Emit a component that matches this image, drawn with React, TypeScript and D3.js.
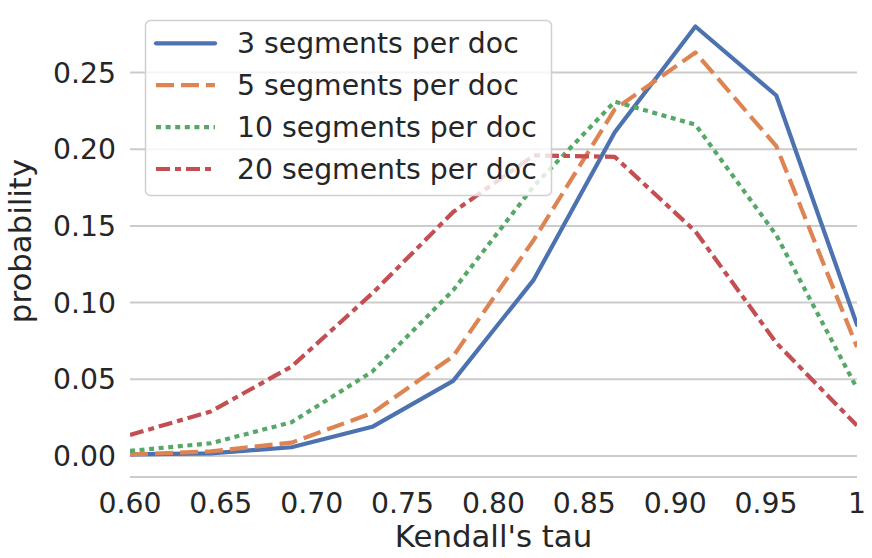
import { useEffect, useRef } from 'react';
import * as d3 from 'd3';

// Kendall's tau bin positions
const taus = [0.6, 0.6444, 0.6889, 0.7333, 0.7778, 0.8222, 0.8667, 0.9111, 0.9556, 1.0];

const seg3 = [0.001, 0.0017, 0.0057, 0.019, 0.049, 0.115, 0.211, 0.28, 0.235, 0.0855];
const seg5 = [0.001, 0.003, 0.0087, 0.028, 0.065, 0.141, 0.226, 0.263, 0.202, 0.071];
const seg10 = [0.0033, 0.0083, 0.022, 0.055, 0.108, 0.176, 0.231, 0.216, 0.144, 0.044];
const seg20 = [0.0137, 0.029, 0.0583, 0.106, 0.159, 0.196, 0.195, 0.1464, 0.0737, 0.0198];

const seriesNames = ['3 segments per doc', '5 segments per doc', '10 segments per doc', '20 segments per doc'];

const xTicks = [0.6, 0.65, 0.7, 0.75, 0.8, 0.85, 0.9, 0.95, 1.0];
const xTickLabels = ['0.60', '0.65', '0.70', '0.75', '0.80', '0.85', '0.90', '0.95', '1'];
const yTicks = [0, 0.05, 0.1, 0.15, 0.2, 0.25];
const yTickLabels = ['0.00', '0.05', '0.10', '0.15', '0.20', '0.25'];

const W = 872;
const H = 558;

export default function App() {
  const svgRef = useRef<SVGSVGElement>(null);

  useEffect(() => {
    document.body.style.margin = '0';
    if (!svgRef.current) return;
    const svg = d3.select(svgRef.current);
    svg.selectAll('*').remove();

    const left = 130;
    const right = 857;
    const top = 5;
    const bottom = 477;
    const font = 'DejaVu Sans, sans-serif';
    const ink = '#262626';
    const grid = '#cccccc';
    const tickSize = 28.3;
    const labelSize = 30.8;

    const x = d3.scaleLinear().domain([0.6, 1.0]).range([left, right]);
    const y = d3.scaleLinear().domain([-0.0137, 0.294]).range([bottom, top]);

    const styles = [
      { color: '#4C72B0', dash: null as string | null, cap: 'round' },
      { color: '#DD8452', dash: '18,7', cap: 'butt' },
      { color: '#55A868', dash: '5,4.6', cap: 'butt' },
      { color: '#C44E52', dash: '14,5,6,5', cap: 'butt' },
    ];
    const series = [seg3, seg5, seg10, seg20];

    svg.append('defs').append('clipPath').attr('id', 'plot-clip')
      .append('rect')
      .attr('x', left).attr('y', 0)
      .attr('width', right - left).attr('height', bottom);

    // Grid
    svg.append('g').selectAll('line')
      .data(yTicks)
      .enter()
      .append('line')
      .attr('x1', left).attr('x2', right)
      .attr('y1', d => y(d)).attr('y2', d => y(d))
      .attr('stroke', grid).attr('stroke-width', 2);

    // bottom spine
    svg.append('line')
      .attr('x1', left).attr('x2', right)
      .attr('y1', bottom).attr('y2', bottom)
      .attr('stroke', grid).attr('stroke-width', 2);

    // Tick labels
    svg.append('g').selectAll('text')
      .data(yTicks)
      .enter()
      .append('text')
      .attr('x', 116)
      .attr('y', d => y(d))
      .attr('dy', '0.36em')
      .attr('text-anchor', 'end')
      .attr('font-family', font).attr('font-size', tickSize).attr('fill', ink)
      .text((d, i) => yTickLabels[i]);

    svg.append('g').selectAll('text')
      .data(xTicks)
      .enter()
      .append('text')
      .attr('x', d => x(d))
      .attr('y', 513)
      .attr('text-anchor', 'middle')
      .attr('font-family', font).attr('font-size', tickSize).attr('fill', ink)
      .text((d, i) => xTickLabels[i]);

    // Axis labels
    svg.append('text')
      .attr('x', (left + right) / 2)
      .attr('y', 547)
      .attr('text-anchor', 'middle')
      .attr('font-family', font).attr('font-size', labelSize).attr('fill', ink)
      .text("Kendall's tau");

    svg.append('text')
      .attr('transform', `translate(31, ${(top + bottom) / 2}) rotate(-90)`)
      .attr('text-anchor', 'middle')
      .attr('font-family', font).attr('font-size', labelSize).attr('fill', ink)
      .text('probability');

    // Lines
    const line = d3.line<number>()
      .x((d, i) => x(taus[i]))
      .y(d => y(d));

    const lines = svg.append('g').attr('clip-path', 'url(#plot-clip)');
    series.forEach((s, i) => {
      const p = lines.append('path')
        .attr('d', line(s) || '')
        .attr('fill', 'none')
        .attr('stroke', styles[i].color)
        .attr('stroke-width', 4.2)
        .attr('stroke-linejoin', 'round')
        .attr('stroke-linecap', styles[i].cap);
      if (styles[i].dash) p.attr('stroke-dasharray', styles[i].dash);
    });

    // Legend
    const lg = svg.append('g');
    lg.append('rect')
      .attr('x', 145.5).attr('y', 20.5)
      .attr('width', 406).attr('height', 175)
      .attr('rx', 5)
      .attr('fill', 'white').attr('fill-opacity', 0.8)
      .attr('stroke', '#d0d0d0').attr('stroke-width', 1.5);

    seriesNames.forEach((name, i) => {
      const cy = 43.3 + i * 41.9;
      const h = lg.append('line')
        .attr('x1', 156).attr('x2', 215)
        .attr('y1', cy).attr('y2', cy)
        .attr('stroke', styles[i].color)
        .attr('stroke-width', 4.2)
        .attr('stroke-linecap', styles[i].cap);
      if (styles[i].dash) h.attr('stroke-dasharray', styles[i].dash);
      lg.append('text')
        .attr('x', 237)
        .attr('y', cy)
        .attr('dy', '0.36em')
        .attr('font-family', font).attr('font-size', tickSize).attr('fill', ink)
        .text(name);
    });
  }, []);

  return <svg ref={svgRef} width={W} height={H} style={{ display: 'block', background: 'white' }} />;
}
